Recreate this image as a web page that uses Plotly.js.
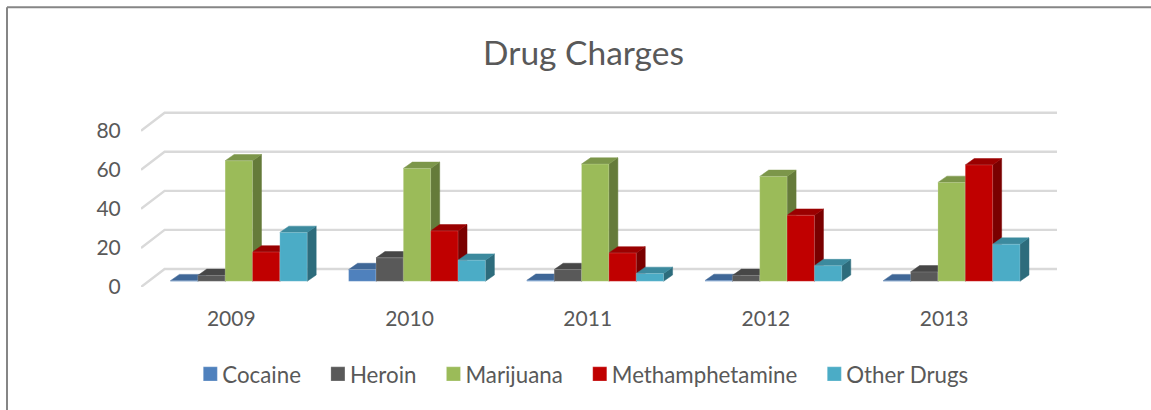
<!DOCTYPE html>
<html><head><meta charset="utf-8">
<script src="https://cdn.plot.ly/plotly-3.0.1.min.js"></script>
<style>html,body{margin:0;padding:0;background:#fff;overflow:hidden}</style>
</head><body><div id="chart" style="width:1151px;height:410px"></div>
<script>
const years = ["2009","2010","2011","2012","2013"];
const seriesNames = ["Cocaine","Heroin","Marijuana","Methamphetamine","Other Drugs"];
const cocaine = [0.3,6,0.5,0.4,0.3];
const heroin = [3,12,6,3,4.8];
const marijuana = [61.7,57.8,60,53.7,50.6];
const meth = [15,25.8,14.5,33.8,59.6];
const other = [25,10.8,4,8,19];
const yTicks = [0,20,40,60,80];
const fronts = ["#4f81bd","#595959","#9bbb59","#c00000","#4bacc6"];
const tops = ["#3f6797","#474747","#7c964a","#9a0000","#3c8a9e"];
const sides = ["#2f4d71","#353535","#657b3a","#7a0000","#2d6c7c"];
const values = [cocaine,heroin,marijuana,meth,other];

// layout geometry in pixels
const W=1151,H=410;
const pL=141,pR=1062,pT=104,pB=286.7;
const pxX=178.2,pxY=1.95,x0Px=231.3;
const wallDx=23.6/pxX, wallDy=18/pxY;
const barDx=9/pxX, barDy=6.3/pxY;
const floorDx=7.5/pxX, floorDy=5.7/pxY;
const barW=27.35/pxX;

const traces=[];
const gx=[],gy=[];
const xL=(pL-x0Px)/pxX, xRight=(1033.4-x0Px)/pxX;
yTicks.forEach(v=>{
  gx.push(xL,xL+wallDx,xRight+wallDx,null);
  gy.push(v,v+wallDy,v+wallDy,null);
});
traces.push({type:"scatter",mode:"lines",x:gx,y:gy,line:{color:"#d9d9d9",width:2.4},hoverinfo:"skip",showlegend:false,connectgaps:false});

function face(xs,ys,color){
  traces.push({type:"scatter",mode:"lines",x:xs,y:ys,fill:"toself",fillcolor:color,line:{color:color,width:0.5},hoverinfo:"skip",showlegend:false});
}
values.forEach((vals,s)=>{
  vals.forEach((v,i)=>{
    const left=i+floorDx+(s-2.5)*barW, right=left+barW;
    const b=floorDy, t=floorDy+v;
    face([right,right+barDx,right+barDx,right,right],[b,b+barDy,t+barDy,t,b],sides[s]);
    face([left,left+barDx,right+barDx,right,left],[t,t+barDy,t+barDy,t,t],tops[s]);
  });
});
// front faces on an overlaid subplot so they paint above the depth faces
values.forEach((vals,s)=>{
  traces.push({type:"bar",name:seriesNames[s],xaxis:"x2",yaxis:"y2",x:vals.map((_,i)=>i+floorDx),y:vals,base:vals.map(()=>floorDy),
    marker:{color:fronts[s],line:{color:"rgba(255,255,255,0.35)",width:0.5}},
    offset:(s-2.5)*barW,width:barW});
});

const xr=[(pL-x0Px)/pxX,(pR-x0Px)/pxX], yr=[0,(pB-pT)/pxY];
const layout={
  width:W,height:H,paper_bgcolor:"#fff",plot_bgcolor:"rgba(0,0,0,0)",
  font:{family:"Lato, 'Open Sans', sans-serif",color:"#595959",size:21},
  margin:{l:pL,r:W-pR,t:pT,b:H-pB,pad:0},
  title:{text:"Drug Charges",font:{size:33.5,color:"#595959"},x:583.5/W,xanchor:"center",y:1-53/H,yanchor:"middle"},
  xaxis:{type:"linear",range:xr,tickmode:"array",tickvals:[0,1,2,3,4],ticktext:years,
    showgrid:false,zeroline:false,showline:false,ticks:"outside",ticklen:13,tickcolor:"rgba(0,0,0,0)",tickfont:{size:21}},
  yaxis:{range:yr,tickmode:"array",tickvals:yTicks,showgrid:false,zeroline:false,showline:false,
    ticks:"outside",ticklen:15,tickcolor:"rgba(0,0,0,0)",tickfont:{size:21}},
  xaxis2:{type:"linear",range:xr,overlaying:"x",visible:false},
  yaxis2:{range:yr,overlaying:"y",visible:false},
  barmode:"overlay",
  legend:{orientation:"h",x:0.0405,xanchor:"left",y:-0.36,yanchor:"top",font:{size:22.3},itemwidth:34,traceorder:"normal"},
  shapes:[
    {type:"line",xref:"paper",yref:"paper",x0:(7-pL)/(pR-pL),x1:(1151-pL)/(pR-pL),y0:(pB-7.5)/(pB-pT),y1:(pB-7.5)/(pB-pT),line:{color:"#868686",width:2}},
    {type:"line",xref:"paper",yref:"paper",x0:(7-pL)/(pR-pL),x1:(7-pL)/(pR-pL),y0:(pB-7.5)/(pB-pT),y1:(pB-410)/(pB-pT),line:{color:"#868686",width:2}}
  ]
};
Plotly.newPlot("chart",traces,layout,{displayModeBar:false,staticPlot:true}).then(()=>{
  // move legend swatches closer to their labels and size them like the reference
  document.querySelectorAll("#chart .legend .legendpoints path").forEach(p=>{
    p.setAttribute("transform","translate(32,0) scale(1.17)");
  });
});
</script></body></html>
